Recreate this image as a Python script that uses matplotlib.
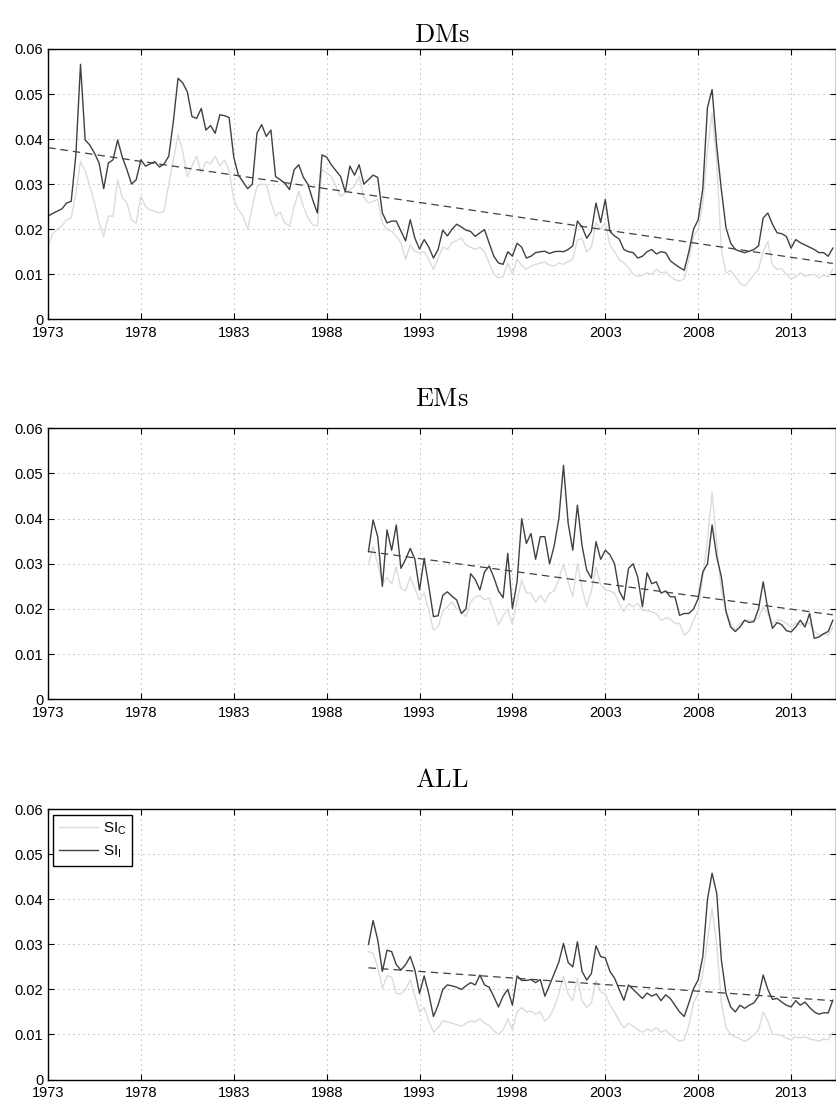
# Systemic risk indicators (SI_C / SI_I) for DMs, EMs and ALL
import numpy as np
import matplotlib
matplotlib.use("Agg")
import matplotlib.pyplot as plt

# Data: quarterly readings, one row per year
dm_start = 1973.0
dm_si_i = [
    0.0229, 0.0235, 0.0240, 0.0245,  # 1973
    0.0258, 0.0262, 0.0365, 0.0566,  # 1974
    0.0398, 0.0387, 0.0369, 0.0347,  # 1975
    0.0290, 0.0347, 0.0354, 0.0398,  # 1976
    0.0360, 0.0332, 0.0300, 0.0310,  # 1977
    0.0354, 0.0340, 0.0345, 0.0350,  # 1978
    0.0338, 0.0345, 0.0362, 0.0440,  # 1979
    0.0535, 0.0525, 0.0505, 0.0450,  # 1980
    0.0446, 0.0468, 0.0420, 0.0430,  # 1981
    0.0413, 0.0454, 0.0452, 0.0448,  # 1982
    0.0360, 0.0320, 0.0305, 0.0290,  # 1983
    0.0300, 0.0413, 0.0432, 0.0406,  # 1984
    0.0420, 0.0317, 0.0310, 0.0302,  # 1985
    0.0288, 0.0332, 0.0343, 0.0315,  # 1986
    0.0299, 0.0265, 0.0236, 0.0365,  # 1987
    0.0360, 0.0343, 0.0330, 0.0317,  # 1988
    0.0283, 0.0340, 0.0320, 0.0343,  # 1989
    0.0300, 0.0310, 0.0320, 0.0315,  # 1990
    0.0236, 0.0214, 0.0218, 0.0218,  # 1991
    0.0196, 0.0174, 0.0221, 0.0180,  # 1992
    0.0156, 0.0177, 0.0160, 0.0136,  # 1993
    0.0155, 0.0198, 0.0185, 0.0200,  # 1994
    0.0211, 0.0205, 0.0198, 0.0195,  # 1995
    0.0184, 0.0192, 0.0199, 0.0169,  # 1996
    0.0140, 0.0125, 0.0122, 0.0150,  # 1997
    0.0140, 0.0169, 0.0160, 0.0136,  # 1998
    0.0140, 0.0148, 0.0150, 0.0151,  # 1999
    0.0146, 0.0150, 0.0151, 0.0150,  # 2000
    0.0155, 0.0163, 0.0218, 0.0205,  # 2001
    0.0180, 0.0195, 0.0258, 0.0215,  # 2002
    0.0266, 0.0195, 0.0185, 0.0178,  # 2003
    0.0155, 0.0150, 0.0148, 0.0136,  # 2004
    0.0140, 0.0150, 0.0155, 0.0145,  # 2005
    0.0150, 0.0148, 0.0130, 0.0122,  # 2006
    0.0115, 0.0109, 0.0150, 0.0200,  # 2007
    0.0221, 0.0290, 0.0470, 0.0510,  # 2008
    0.0384, 0.0287, 0.0203, 0.0169,  # 2009
    0.0155, 0.0151, 0.0148, 0.0151,  # 2010
    0.0155, 0.0163, 0.0225, 0.0236,  # 2011
    0.0211, 0.0192, 0.0190, 0.0184,  # 2012
    0.0158, 0.0177, 0.0170, 0.0165,  # 2013
    0.0160, 0.0155, 0.0148, 0.0148,  # 2014
    0.0140, 0.0158,                  # 2015
]
dm_si_c = [
    0.0162, 0.0190, 0.0200, 0.0207,  # 1973
    0.0221, 0.0225, 0.0280, 0.0350,  # 1974
    0.0330, 0.0295, 0.0260, 0.0214,  # 1975
    0.0184, 0.0229, 0.0229, 0.0310,  # 1976
    0.0270, 0.0258, 0.0220, 0.0214,  # 1977
    0.0273, 0.0250, 0.0243, 0.0240,  # 1978
    0.0236, 0.0240, 0.0300, 0.0354,  # 1979
    0.0410, 0.0373, 0.0317, 0.0340,  # 1980
    0.0362, 0.0325, 0.0350, 0.0345,  # 1981
    0.0362, 0.0340, 0.0354, 0.0330,  # 1982
    0.0266, 0.0243, 0.0229, 0.0200,  # 1983
    0.0250, 0.0295, 0.0300, 0.0299,  # 1984
    0.0260, 0.0229, 0.0238, 0.0214,  # 1985
    0.0207, 0.0250, 0.0284, 0.0250,  # 1986
    0.0225, 0.0210, 0.0207, 0.0332,  # 1987
    0.0325, 0.0317, 0.0295, 0.0273,  # 1988
    0.0280, 0.0288, 0.0295, 0.0317,  # 1989
    0.0270, 0.0258, 0.0262, 0.0266,  # 1990
    0.0214, 0.0199, 0.0195, 0.0184,  # 1991
    0.0170, 0.0133, 0.0165, 0.0150,  # 1992
    0.0148, 0.0150, 0.0133, 0.0111,  # 1993
    0.0135, 0.0160, 0.0155, 0.0170,  # 1994
    0.0175, 0.0181, 0.0165, 0.0160,  # 1995
    0.0155, 0.0160, 0.0150, 0.0125,  # 1996
    0.0100, 0.0092, 0.0095, 0.0125,  # 1997
    0.0100, 0.0133, 0.0120, 0.0111,  # 1998
    0.0118, 0.0122, 0.0125, 0.0127,  # 1999
    0.0120, 0.0118, 0.0125, 0.0122,  # 2000
    0.0128, 0.0133, 0.0176, 0.0180,  # 2001
    0.0150, 0.0160, 0.0214, 0.0200,  # 2002
    0.0214, 0.0165, 0.0150, 0.0133,  # 2003
    0.0125, 0.0115, 0.0100, 0.0095,  # 2004
    0.0098, 0.0103, 0.0100, 0.0111,  # 2005
    0.0103, 0.0105, 0.0095, 0.0088,  # 2006
    0.0085, 0.0090, 0.0133, 0.0184,  # 2007
    0.0200, 0.0258, 0.0376, 0.0457,  # 2008
    0.0347, 0.0155, 0.0103, 0.0108,  # 2009
    0.0095, 0.0080, 0.0074, 0.0085,  # 2010
    0.0100, 0.0111, 0.0150, 0.0173,  # 2011
    0.0120, 0.0111, 0.0112, 0.0100,  # 2012
    0.0089, 0.0095, 0.0103, 0.0096,  # 2013
    0.0098, 0.0100, 0.0092, 0.0098,  # 2014
    0.0094, 0.0111,                  # 2015
]
dm_trend = [0.0381, 0.0124]

em_start = 1990.25
em_si_i = [
    0.0327, 0.0397, 0.0360,          # 1990
    0.0250, 0.0375, 0.0330, 0.0386,  # 1991
    0.0290, 0.0310, 0.0334, 0.0310,  # 1992
    0.0242, 0.0312, 0.0250, 0.0183,  # 1993
    0.0185, 0.0230, 0.0238, 0.0228,  # 1994
    0.0220, 0.0190, 0.0200, 0.0278,  # 1995
    0.0265, 0.0242, 0.0282, 0.0295,  # 1996
    0.0270, 0.0240, 0.0225, 0.0323,  # 1997
    0.0201, 0.0260, 0.0400, 0.0345,  # 1998
    0.0367, 0.0310, 0.0360, 0.0360,  # 1999
    0.0300, 0.0340, 0.0400, 0.0518,  # 2000
    0.0390, 0.0330, 0.0430, 0.0340,  # 2001
    0.0286, 0.0268, 0.0349, 0.0310,  # 2002
    0.0330, 0.0320, 0.0300, 0.0240,  # 2003
    0.0220, 0.0290, 0.0300, 0.0270,  # 2004
    0.0205, 0.0280, 0.0256, 0.0260,  # 2005
    0.0235, 0.0240, 0.0227, 0.0227,  # 2006
    0.0186, 0.0190, 0.0190, 0.0200,  # 2007
    0.0223, 0.0282, 0.0300, 0.0386,  # 2008
    0.0315, 0.0271, 0.0194, 0.0160,  # 2009
    0.0150, 0.0160, 0.0175, 0.0170,  # 2010
    0.0172, 0.0200, 0.0260, 0.0200,  # 2011
    0.0157, 0.0170, 0.0165, 0.0152,  # 2012
    0.0149, 0.0160, 0.0175, 0.0160,  # 2013
    0.0190, 0.0135, 0.0138, 0.0145,  # 2014
    0.0150, 0.0175,                  # 2015
]
em_si_c = [
    0.0297, 0.0338, 0.0300,          # 1990
    0.0256, 0.0270, 0.0256, 0.0293,  # 1991
    0.0245, 0.0240, 0.0271, 0.0245,  # 1992
    0.0220, 0.0235, 0.0197, 0.0153,  # 1993
    0.0160, 0.0195, 0.0205, 0.0215,  # 1994
    0.0200, 0.0197, 0.0183, 0.0215,  # 1995
    0.0227, 0.0230, 0.0220, 0.0225,  # 1996
    0.0195, 0.0165, 0.0185, 0.0200,  # 1997
    0.0165, 0.0220, 0.0264, 0.0235,  # 1998
    0.0235, 0.0215, 0.0230, 0.0215,  # 1999
    0.0235, 0.0240, 0.0265, 0.0300,  # 2000
    0.0260, 0.0227, 0.0300, 0.0245,  # 2001
    0.0205, 0.0240, 0.0293, 0.0255,  # 2002
    0.0242, 0.0240, 0.0235, 0.0212,  # 2003
    0.0194, 0.0212, 0.0205, 0.0212,  # 2004
    0.0197, 0.0197, 0.0194, 0.0190,  # 2005
    0.0175, 0.0180, 0.0178, 0.0168,  # 2006
    0.0168, 0.0142, 0.0150, 0.0175,  # 2007
    0.0197, 0.0271, 0.0352, 0.0459,  # 2008
    0.0345, 0.0240, 0.0197, 0.0168,  # 2009
    0.0153, 0.0168, 0.0175, 0.0175,  # 2010
    0.0175, 0.0180, 0.0205, 0.0190,  # 2011
    0.0168, 0.0175, 0.0175, 0.0168,  # 2012
    0.0160, 0.0168, 0.0165, 0.0170,  # 2013
    0.0168, 0.0150, 0.0142, 0.0145,  # 2014
    0.0142, 0.0160,                  # 2015
]
em_trend = [0.0327, 0.0187]

all_start = 1990.25
all_si_i = [
    0.0300, 0.0353, 0.0310,          # 1990
    0.0240, 0.0287, 0.0284, 0.0255,  # 1991
    0.0243, 0.0255, 0.0273, 0.0243,  # 1992
    0.0191, 0.0230, 0.0190, 0.0140,  # 1993
    0.0165, 0.0200, 0.0210, 0.0208,  # 1994
    0.0205, 0.0200, 0.0208, 0.0215,  # 1995
    0.0210, 0.0232, 0.0210, 0.0205,  # 1996
    0.0184, 0.0161, 0.0185, 0.0200,  # 1997
    0.0165, 0.0230, 0.0220, 0.0220,  # 1998
    0.0222, 0.0215, 0.0222, 0.0185,  # 1999
    0.0210, 0.0235, 0.0261, 0.0302,  # 2000
    0.0260, 0.0250, 0.0306, 0.0240,  # 2001
    0.0221, 0.0235, 0.0297, 0.0273,  # 2002
    0.0270, 0.0240, 0.0225, 0.0200,  # 2003
    0.0176, 0.0210, 0.0200, 0.0190,  # 2004
    0.0180, 0.0192, 0.0185, 0.0190,  # 2005
    0.0175, 0.0188, 0.0180, 0.0165,  # 2006
    0.0150, 0.0140, 0.0170, 0.0202,  # 2007
    0.0221, 0.0273, 0.0400, 0.0458,  # 2008
    0.0413, 0.0265, 0.0191, 0.0161,  # 2009
    0.0150, 0.0165, 0.0158, 0.0165,  # 2010
    0.0170, 0.0185, 0.0232, 0.0200,  # 2011
    0.0178, 0.0180, 0.0172, 0.0165,  # 2012
    0.0161, 0.0175, 0.0165, 0.0172,  # 2013
    0.0160, 0.0150, 0.0145, 0.0148,  # 2014
    0.0148, 0.0176,                  # 2015
]
all_si_c = [
    0.0284, 0.0280, 0.0250,          # 1990
    0.0202, 0.0230, 0.0228, 0.0191,  # 1991
    0.0190, 0.0200, 0.0221, 0.0185,  # 1992
    0.0150, 0.0160, 0.0130, 0.0105,  # 1993
    0.0115, 0.0130, 0.0128, 0.0125,  # 1994
    0.0122, 0.0118, 0.0125, 0.0130,  # 1995
    0.0128, 0.0135, 0.0125, 0.0120,  # 1996
    0.0108, 0.0100, 0.0110, 0.0135,  # 1997
    0.0110, 0.0150, 0.0160, 0.0150,  # 1998
    0.0152, 0.0145, 0.0150, 0.0130,  # 1999
    0.0140, 0.0160, 0.0190, 0.0230,  # 2000
    0.0190, 0.0175, 0.0225, 0.0175,  # 2001
    0.0160, 0.0170, 0.0220, 0.0195,  # 2002
    0.0190, 0.0165, 0.0150, 0.0130,  # 2003
    0.0115, 0.0125, 0.0118, 0.0110,  # 2004
    0.0105, 0.0112, 0.0108, 0.0115,  # 2005
    0.0105, 0.0110, 0.0100, 0.0092,  # 2006
    0.0085, 0.0088, 0.0120, 0.0170,  # 2007
    0.0190, 0.0235, 0.0310, 0.0380,  # 2008
    0.0300, 0.0170, 0.0115, 0.0100,  # 2009
    0.0095, 0.0090, 0.0085, 0.0090,  # 2010
    0.0100, 0.0110, 0.0150, 0.0130,  # 2011
    0.0100, 0.0100, 0.0098, 0.0092,  # 2012
    0.0088, 0.0095, 0.0092, 0.0095,  # 2013
    0.0090, 0.0088, 0.0085, 0.0090,  # 2014
    0.0088, 0.0105,                  # 2015
]
all_trend = [0.0248, 0.0175]

titles = ["DMs", "EMs", "ALL"]
year_ticks = [1973, 1978, 1983, 1988, 1993, 1998, 2003, 2008, 2013]
value_ticks = [0, 0.01, 0.02, 0.03, 0.04, 0.05, 0.06]
value_labels = ["0", "0.01", "0.02", "0.03", "0.04", "0.05", "0.06"]

plt.rcParams["font.family"] = ["Liberation Sans", "DejaVu Sans"]

LIGHT = "#dcdcd6"
DARK = "#404040"

W, H = 837, 1103
fig = plt.figure(figsize=(W / 100, H / 100), dpi=100)

# axes boxes in pixels: (top, bottom)
boxes = [(49, 319.3), (428.3, 699.3), (809.3, 1079.5)]
title_pads = [5, 16, 16]
panels = [
    (dm_start, dm_si_c, dm_si_i, dm_trend),
    (em_start, em_si_c, em_si_i, em_trend),
    (all_start, all_si_c, all_si_i, all_trend),
]

for i, (start, si_c, si_i, trend) in enumerate(panels):
    top, bottom = boxes[i]
    ax = fig.add_axes([48 / W, 1 - bottom / H, (836 - 48) / W, (bottom - top) / H])

    t = start + 0.25 * np.arange(len(si_i))
    ax.plot(t, si_c, color=LIGHT, lw=1.0, label=r"SI$_\mathregular{C}$")
    ax.plot(t, si_i, color=DARK, lw=1.0, label=r"SI$_\mathregular{I}$")
    ax.plot([t[0], t[-1]], trend, color=DARK, lw=0.9, dashes=(6, 4))

    ax.set_xlim(1973, 2015.42)
    ax.set_ylim(0, 0.06)
    ax.set_xticks(year_ticks)
    ax.set_xticklabels([str(y) for y in year_ticks])
    ax.set_yticks(value_ticks)
    ax.set_yticklabels(value_labels)

    ax.grid(True, linestyle=(0, (1, 5)), color="0.45", lw=0.6)
    ax.tick_params(direction="in", length=4.5, width=0.8, top=True, right=True,
                   labelsize=10.5, colors="k")
    ax.tick_params(axis="x", pad=5)
    ax.tick_params(axis="y", pad=3.5)
    for s in ax.spines.values():
        s.set_linewidth(1.0)

    ax.set_title("$\\mathrm{" + titles[i] + "}$", fontsize=19,
                 math_fontfamily="cm", pad=title_pads[i])

    if i == 2:
        leg = ax.legend(loc="upper left", fancybox=False, edgecolor="k",
                        framealpha=1, handlelength=2.6, handletextpad=0.3,
                        borderaxespad=0.35, borderpad=0.35, labelspacing=0.45,
                        prop={"size": 11})
        leg.get_frame().set_linewidth(1.0)

fig.savefig("out.png", dpi=100)
